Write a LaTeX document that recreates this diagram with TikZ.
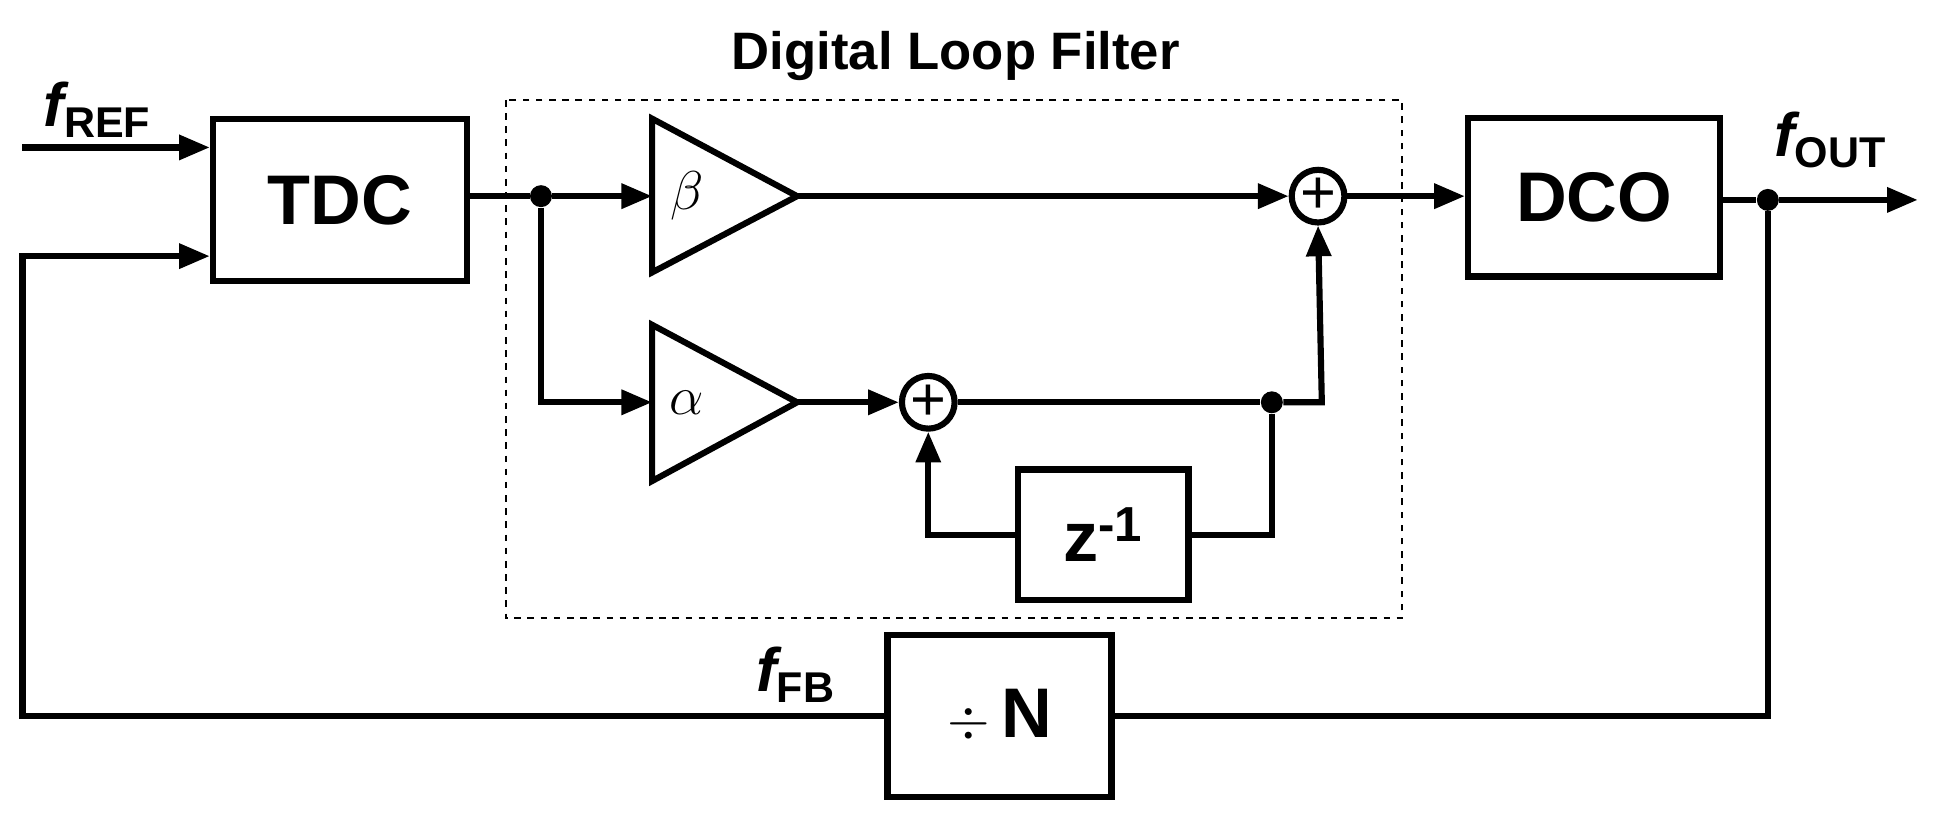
\documentclass[tikz,border=0pt]{standalone}
\usepackage{fontspec}
\setmainfont{Liberation Sans}
\usetikzlibrary{arrows.meta}
\begin{document}
\begin{tikzpicture}[x=0.02cm,y=-0.02cm,
  ln/.style={line width=2.8pt},
  ar/.style={ln,-{Triangle[length=14pt,width=11pt]}},
  blk/.style={draw,line width=2.8pt,inner sep=0pt,font=\fontsize{32}{36}\selectfont\bfseries},
  sm/.style={draw,circle,line width=2.8pt,minimum size=24pt,inner sep=0pt},
  dot/.style={circle,fill,inner sep=0pt,minimum size=10pt},
  lab/.style={font=\fontsize{28}{32}\selectfont\bfseries\itshape}]
\useasboundingbox (0,0) rectangle (1560,660);
\draw[dashed,line width=0.9pt] (405,80) rectangle (1122,495);
\node[font=\fontsize{24}{28}\selectfont\bfseries] (title) at (765,45) {Digital Loop Filter};
\node[blk,minimum width=115.7pt,minimum height=73.7pt] (tdc) at (272,160) {TDC};
\node[blk,minimum width=115pt,minimum height=72pt] (dco) at (1276,158) {DCO};
\node[blk,minimum width=102pt,minimum height=73.7pt] (div) at (800,573) {$\div$\,N};
\node[blk,minimum width=77.7pt,minimum height=59.5pt] (z) at (883,428) {z\textsuperscript{-1}};
\draw[ln] (522,95) -- (638,157) -- (522,218) -- cycle;
\draw[ln] (522,260) -- (638,322) -- (522,385) -- cycle;
\node[font=\fontsize{30}{34}\selectfont] (b) at (550,157) {$\beta$};
\node[font=\fontsize{30}{34}\selectfont] (a) at (550,322) {$\alpha$};
\coordinate (bin) at (522,157); \coordinate (bout) at (638,157);
\coordinate (ain) at (522,322); \coordinate (aout) at (638,322);
\node[sm] (s1) at (1055,157) {\fontsize{28}{30}\selectfont +};
\node[sm] (s2) at (743,322) {\fontsize{28}{30}\selectfont +};
\node[dot] (d1) at (433,157) {};
\node[dot] (d2) at (1018,322) {};
\node[dot] (d3) at (1415,160) {};
\coordinate (inref) at (18,118); \coordinate (infb) at (18,205);
\coordinate (out) at (1535,160);
\draw[ar] (inref) -- (inref -| tdc.west);
\draw[ar] (div.west) -- (18,573) -- (infb) -- (infb -| tdc.west);
\draw[ln] (tdc.east |- d1) -- (d1);
\draw[ar] (d1) -- (bin);
\draw[ar] (d1) |- (ain);
\draw[ar] (bout) -- (s1.west);
\draw[ar] (aout) -- (s2.west);
\draw[ln] (s2.east) -- (d2);
\draw[ar] (d2) -- (1058,322) -- (s1.south);
\draw[ln] (d2) |- (z.east);
\draw[ar] (z.west) -| (s2.south);
\draw[ar] (s1.east) -- (s1.east -| dco.west);
\draw[ln] (dco.east |- d3) -- (d3);
\draw[ar] (d3) -- (out);
\draw[ln] (d3) |- (div.east);
\node[lab] (fref) at (78,88) {f\textsubscript{\upshape REF}};
\node[lab] (fout) at (1465,112) {f\textsubscript{\upshape OUT}};
\node[lab] (ffb) at (637,540) {f\textsubscript{\upshape FB}};
\end{tikzpicture}
\end{document}
